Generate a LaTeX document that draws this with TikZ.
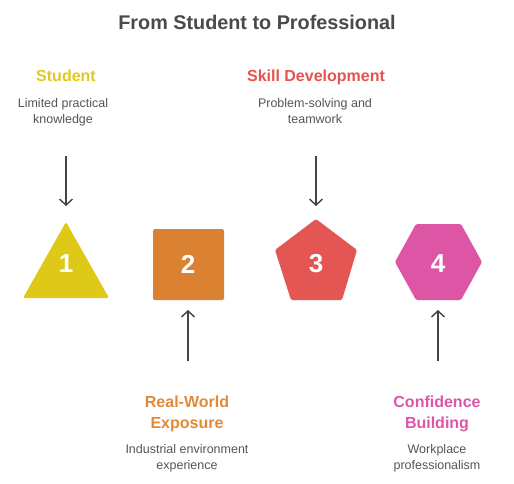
\documentclass[tikz,border=0pt]{standalone}
\usepackage{fontspec}
\setmainfont{Liberation Sans}
\usetikzlibrary{arrows.meta}
\definecolor{titlegrey}{HTML}{4A4A4A}
\definecolor{subgrey}{HTML}{555555}
\definecolor{arrowgrey}{HTML}{444444}
\definecolor{cyellow}{HTML}{DEC818}
\definecolor{corange}{HTML}{DB8132}
\definecolor{cred}{HTML}{E35653}
\definecolor{cpink}{HTML}{DC56A5}
\definecolor{tyellow}{HTML}{E2C81E}
\definecolor{torange}{HTML}{E08A38}
\definecolor{tred}{HTML}{E5534F}
\definecolor{tpink}{HTML}{DE56A8}
\tikzset{
  titletext/.style={font=\bfseries\fontsize{19.8}{24}\selectfont, text=titlegrey, inner sep=0pt, anchor=base},
  headtext/.style={font=\bfseries\fontsize{16}{20.5}\selectfont, align=center, inner sep=0pt, anchor=base},
  subtext/.style={font=\fontsize{12.5}{16}\selectfont, text=subgrey, align=center, inner sep=0pt, anchor=base},
  numtext/.style={font=\bfseries\fontsize{26}{30}\selectfont, text=white, inner sep=0pt},
  arr/.style={draw=arrowgrey, line width=1.4pt, -{Straight Barb[length=6pt,width=13pt,line width=1.4pt]}},
  shapefill/.style={rounded corners=1.5pt}
}
\begin{document}
\begin{tikzpicture}[x=1pt,y=-1pt]
\useasboundingbox (0,0) rectangle (514,483);
\fill[white] (0,0) rectangle (514,483);

\node[titletext] (title) at (257,29) {From Student to Professional};

% top labels (anchor base = baseline of last line)
\node[headtext, text=tyellow] (h1) at (66,81) {Student};
\node[subtext] (s1) at (63,123) {Limited practical\\knowledge};
\node[headtext, text=tred] (h3) at (316,81) {Skill Development};
\node[subtext] (s3) at (315,123) {Problem-solving and\\teamwork};

% bottom labels
\node[headtext, text=torange] (h2) at (187,428) {Real-World\\Exposure};
\node[subtext] (s2) at (187,469) {Industrial environment\\experience};
\node[headtext, text=tpink] (h4) at (437,428) {Confidence\\Building};
\node[subtext] (s4) at (437,469) {Workplace\\professionalism};

% shapes
\fill[cyellow, shapefill] (66,222) -- (109,298) -- (23,298) -- cycle;
\fill[corange, shapefill] (153,229) rectangle (224,300);
\fill[cred, shapefill] (316,219) -- (357,250) -- (342,300) -- (291,300) -- (275,250) -- cycle;
\fill[cpink, shapefill] (395,262) -- (416,224) -- (461,224) -- (482,262) -- (461,300) -- (416,300) -- cycle;

\node[numtext] (n1) at (66,264) {1};
\node[numtext] (n2) at (188,264) {2};
\node[numtext] (n3) at (316,264) {3};
\node[numtext] (n4) at (438,264) {4};

% arrows
\coordinate (a1s) at (66,156);
\coordinate (a1e) at (66,206);
\coordinate (a3s) at (316,156);
\coordinate (a3e) at (316,206);
\coordinate (a2s) at (188,361);
\coordinate (a2e) at (188,310);
\coordinate (a4s) at (438,361);
\coordinate (a4e) at (438,310);
\draw[arr] (a1s) -- (a1e);
\draw[arr] (a3s) -- (a3e);
\draw[arr] (a2s) -- (a2e);
\draw[arr] (a4s) -- (a4e);
\end{tikzpicture}
\end{document}
